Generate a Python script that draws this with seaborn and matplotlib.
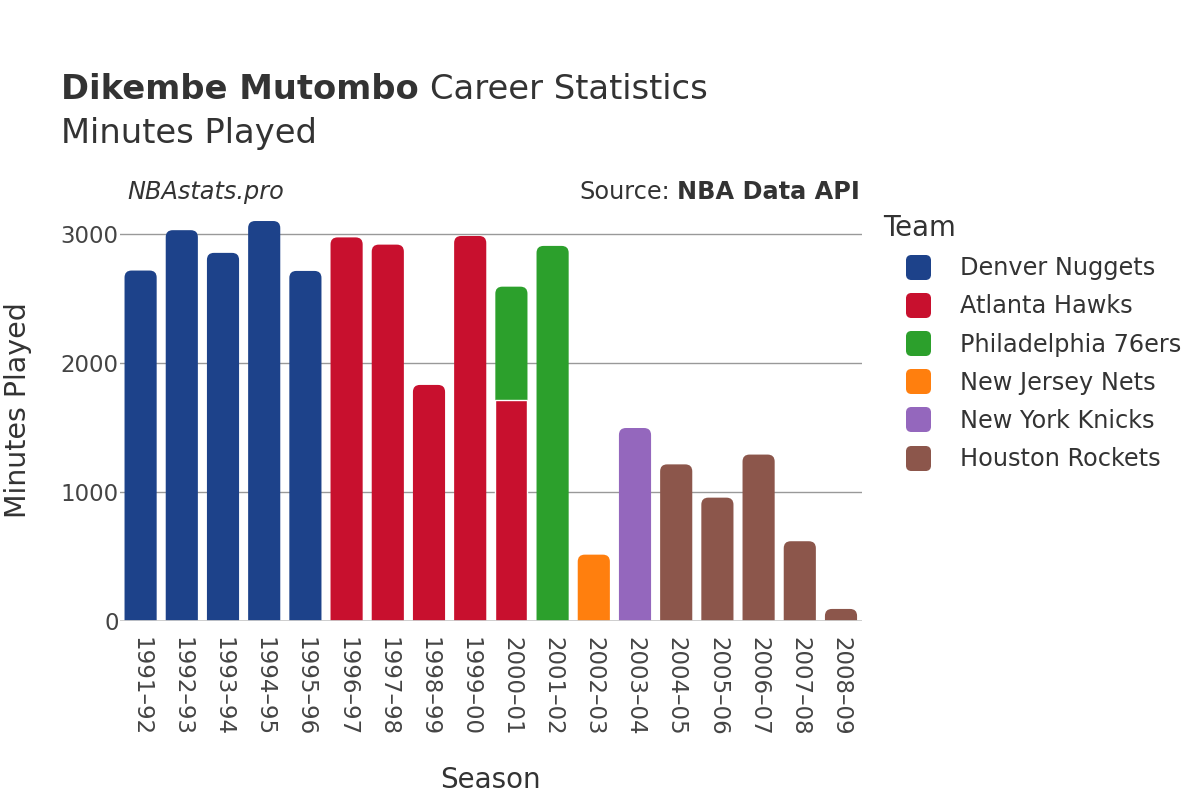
import matplotlib
matplotlib.use("Agg")
from matplotlib import pyplot as plt
from matplotlib.patches import FancyBboxPatch, BoxStyle
from matplotlib.lines import Line2D
import pandas as pd
import seaborn as sns

seasons = ["1991–92", "1992–93", "1993–94", "1994–95", "1995–96", "1996–97",
           "1997–98", "1998–99", "1999–00", "2000–01", "2000–01", "2001–02",
           "2002–03", "2003–04", "2004–05", "2005–06", "2006–07", "2007–08",
           "2008–09"]
teams = ["Denver Nuggets", "Denver Nuggets", "Denver Nuggets", "Denver Nuggets",
         "Denver Nuggets", "Atlanta Hawks", "Atlanta Hawks", "Atlanta Hawks",
         "Atlanta Hawks", "Atlanta Hawks", "Philadelphia 76ers", "Philadelphia 76ers",
         "New Jersey Nets", "New York Knicks", "Houston Rockets", "Houston Rockets",
         "Houston Rockets", "Houston Rockets", "Houston Rockets"]
minutes = [2716, 3029, 2853, 3100, 2713, 2973, 2917, 1829, 2984, 1716, 875, 2907,
           513, 1495, 1213, 955, 1289, 617, 92]

team_order = ["Denver Nuggets", "Atlanta Hawks", "Philadelphia 76ers",
              "New Jersey Nets", "New York Knicks", "Houston Rockets"]
team_colors = ["#1d428a", "#c8102e", "#2ca02c", "#ff7f0e", "#9467bd", "#8c564b"]
season_order = list(dict.fromkeys(seasons))

df = pd.DataFrame({"season": seasons, "team": teams, "minutes": minutes})
df["top"] = df.groupby("season")["minutes"].cumsum()
df["is_last"] = ~df["season"].duplicated(keep="last")
palette = dict(zip(team_order, team_colors))

fig = plt.figure(figsize=(12, 8), dpi=100)
ax = fig.add_axes([0.1, 0.224, 0.618, 0.526])
text_col = "#333333"

# pass 1: the top of each stack (rounded), pass 2: lower segments drawn over it
tops = df[df["is_last"]]
lows = df[~df["is_last"]]
sns.barplot(data=tops, x="season", y="top", hue="team", order=season_order,
            hue_order=team_order, palette=palette, dodge=False, width=0.78,
            legend=False, ax=ax, saturation=1)
n_top = len(ax.patches)
sns.barplot(data=lows, x="season", y="top", hue="team", order=season_order,
            hue_order=team_order, palette=palette, dodge=False, width=0.78,
            legend=False, ax=ax, saturation=1, edgecolor="white", linewidth=1)
for p in ax.patches[n_top:]:
    p.set_zorder(3)

ax.set_xlim(-0.5, len(season_order) - 0.5)
ax.set_ylim(0, 3263)

# round the tops of the bars
fig.canvas.draw()
px_x = ax.transData.transform((1, 0))[0] - ax.transData.transform((0, 0))[0]
px_y = ax.transData.transform((0, 1000))[1] - ax.transData.transform((0, 0))[1]
aspect = (1000 / px_y) / (1 / px_x)
r = 7 / px_x
for p in list(ax.patches[:n_top]):
    if p.get_height() <= 0:
        continue
    x0, w, h = p.get_x(), p.get_width(), p.get_height()
    ext = 30 * aspect * r
    fb = FancyBboxPatch((x0, -ext), w, h + ext,
                        boxstyle=f"round,pad=0,rounding_size={r}",
                        mutation_aspect=aspect, facecolor=p.get_facecolor(),
                        edgecolor="none", zorder=2)
    p.remove()
    ax.add_patch(fb)

ax.set_yticks([0, 1000, 2000, 3000])
ax.grid(axis="y", color="#999999", linewidth=1)
ax.set_axisbelow(True)
ax.axhline(0, color="#cccccc", linewidth=2, zorder=3.5)
for s in ax.spines.values():
    s.set_visible(False)
ax.tick_params(axis="both", length=0, labelsize=16.5, labelcolor="#444444")
ax.tick_params(axis="x", pad=12)
ax.tick_params(axis="y", pad=1)
plt.setp(ax.get_xticklabels(), rotation=-90, ha="center", va="top")
ax.set_xlabel("Season", fontsize=20, color=text_col)
ax.set_ylabel("Minutes Played", fontsize=20.5, color=text_col)
ax.xaxis.set_label_coords(0.5, -0.345)
ax.yaxis.set_label_coords(-0.118, 0.5)

# title
renderer = fig.canvas.get_renderer()
t1 = fig.text(61 / 1200, 1 - 99 / 800, "Dikembe Mutombo", fontsize=24.3,
              fontweight="bold", color=text_col, va="baseline")
bb = t1.get_window_extent(renderer)
fig.text(bb.x1 / 1200 + 0.0095, 1 - 99 / 800, "Career Statistics", fontsize=24.3,
         color=text_col, va="baseline")
fig.text(61 / 1200, 1 - 143 / 800, "Minutes Played", fontsize=24.3, color=text_col,
         va="baseline")

fig.text(127 / 1200, 1 - 199 / 800, "NBAstats.pro", fontsize=17.3, style="italic",
         color=text_col, va="baseline")
t2 = fig.text(860 / 1200, 1 - 199 / 800, "NBA Data API", fontsize=17.3,
              fontweight="bold", color=text_col, ha="right", va="baseline")
bb2 = t2.get_window_extent(renderer)
fig.text(bb2.x0 / 1200 - 0.006, 1 - 199 / 800, "Source:", fontsize=17.3,
         color=text_col, ha="right", va="baseline")

# legend with rounded square markers
rsq = BoxStyle.Round(pad=0, rounding_size=0.2)(-0.5, -0.5, 1, 1, 1)
handles = [Line2D([0], [0], marker=rsq, linestyle="none", markersize=17,
                  markerfacecolor=c, markeredgecolor=c) for c in team_colors]
leg = fig.legend(handles, team_order, title="Team", loc="upper left",
                 bbox_to_anchor=(883 / 1200, 1 - 214 / 800), frameon=False,
                 fontsize=17.3, title_fontsize=19.8, labelspacing=0.59,
                 handlelength=2.9, handletextpad=0.3, borderaxespad=0,
                 borderpad=0)
leg._legend_box.align = "left"
for t in leg.get_texts():
    t.set_color(text_col)
leg.get_title().set_color(text_col)

fig.savefig("out.png", dpi=100, facecolor="white")
